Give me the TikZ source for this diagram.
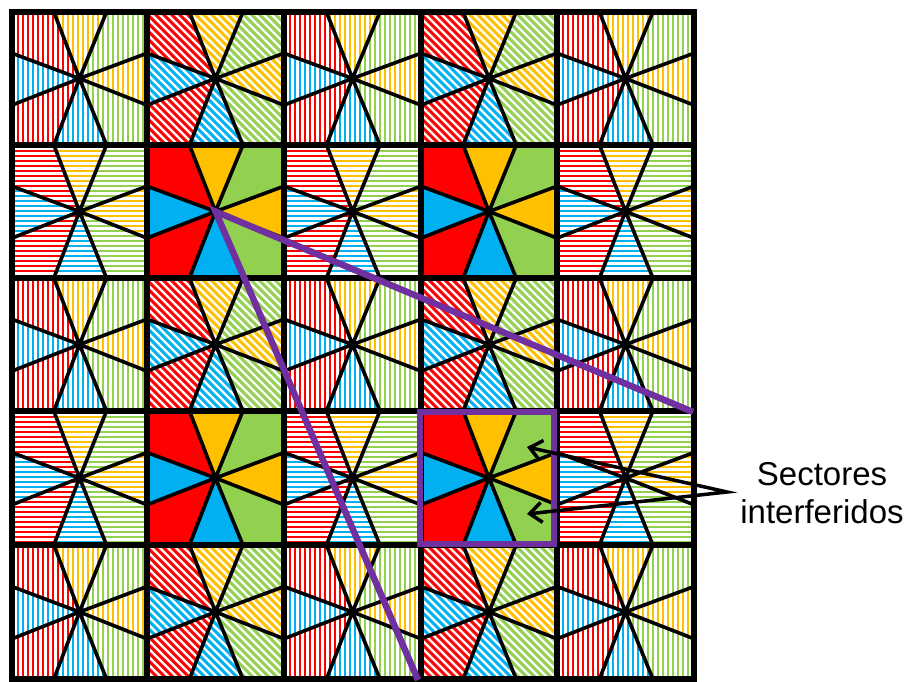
\documentclass[tikz,border=0pt]{standalone}
\usepackage{fontspec}
\setmainfont{Liberation Sans}
\usetikzlibrary{arrows.meta}
\definecolor{cred}{HTML}{FF0000}
\definecolor{cyel}{HTML}{FFC000}
\definecolor{cgrn}{HTML}{92D050}
\definecolor{cblu}{HTML}{00B0F0}
\definecolor{cpur}{HTML}{7030A0}
\tikzset{
 stripevh/.style={line width=2.5pt},
 striped/.style={line width=3pt},
 secline/.style={line width=3.6pt},
 gridline/.style={line width=6pt},
 purpline/.style={draw=cpur,line width=6.5pt},
 purpframe/.style={draw=cpur,line width=5.5pt},
 callout/.style={line width=3.5pt,line join=miter,
   {Straight Barb[length=12pt,width=20pt]}-{Straight Barb[length=12pt,width=20pt]}},
 lbl/.style={font=\fontsize{33}{38}\selectfont,anchor=base,inner sep=0pt}
}
% stripe fillers over the current cell box
\newcommand\fillplain[1]{\fill[#1] (\xa,\ya) rectangle (\xb,\yb);}
\newcommand\fillv[1]{\foreach \s in {1,6,...,141} {\draw[#1,stripevh] (\xa+\s,\ya) -- (\xa+\s,\yb);}}
\newcommand\fillh[1]{\foreach \s in {1,6,...,136} {\draw[#1,stripevh] (\xa,\ya+\s) -- (\xb,\ya+\s);}}
\newcommand\filld[1]{\foreach \s in {-140,-132,...,142} {\draw[#1,striped] (\xa+\s,\ya-2) -- (\xa+\s+140,\ya+138);}}
\newcommand\sect[3]{\begin{scope}\clip #3; \csname fill#1\endcsname{#2}\end{scope}}
\newcommand\drawcell[3]{%
 \pgfmathtruncatemacro\ci{#1+1}%
 \pgfmathtruncatemacro\ri{#2+1}%
 \pgfmathsetmacro\xa{{12,147,284,421,557,694}[#1]}%
 \pgfmathsetmacro\xb{{12,147,284,421,557,694}[\ci]}%
 \pgfmathsetmacro\ya{{12,145,278,411,545,679}[#2]}%
 \pgfmathsetmacro\yb{{12,145,278,411,545,679}[\ri]}%
 \pgfmathsetmacro\xl{\xa+0.31*(\xb-\xa)}%
 \pgfmathsetmacro\xr{\xa+0.70*(\xb-\xa)}%
 \pgfmathsetmacro\yu{\ya+0.31*(\yb-\ya)}%
 \pgfmathsetmacro\yd{\ya+0.70*(\yb-\ya)}%
 \pgfmathsetmacro\xc{(\xa+\xb)/2}%
 \pgfmathsetmacro\yc{(\ya+\yb)/2}%
 \sect{#3}{cred}{(\xc,\yc) -- (\xa,\yu) -- (\xa,\ya) -- (\xl,\ya) -- cycle}%
 \sect{#3}{cyel}{(\xc,\yc) -- (\xl,\ya) -- (\xr,\ya) -- cycle}%
 \sect{#3}{cgrn}{(\xc,\yc) -- (\xr,\ya) -- (\xb,\ya) -- (\xb,\yu) -- cycle}%
 \sect{#3}{cyel}{(\xc,\yc) -- (\xb,\yu) -- (\xb,\yd) -- cycle}%
 \sect{#3}{cgrn}{(\xc,\yc) -- (\xb,\yd) -- (\xb,\yb) -- (\xr,\yb) -- cycle}%
 \sect{#3}{cblu}{(\xc,\yc) -- (\xr,\yb) -- (\xl,\yb) -- cycle}%
 \sect{#3}{cred}{(\xc,\yc) -- (\xl,\yb) -- (\xa,\yb) -- (\xa,\yd) -- cycle}%
 \sect{#3}{cblu}{(\xc,\yc) -- (\xa,\yd) -- (\xa,\yu) -- cycle}%
 \draw[secline] (\xc,\yc) -- (\xl,\ya) (\xc,\yc) -- (\xr,\ya)
   (\xc,\yc) -- (\xb,\yu) (\xc,\yc) -- (\xb,\yd)
   (\xc,\yc) -- (\xr,\yb) (\xc,\yc) -- (\xl,\yb)
   (\xc,\yc) -- (\xa,\yd) (\xc,\yc) -- (\xa,\yu);
}
\begin{document}
\begin{tikzpicture}[x=1pt,y=-1pt]
\fill[white] (0,0) rectangle (907,682);
\useasboundingbox (0,0) rectangle (907,682);
\foreach \c/\r in {0/0,2/0,4/0,0/2,2/2,4/2,0/4,2/4,4/4} {\drawcell{\c}{\r}{v}}
\foreach \c/\r in {1/0,3/0,1/2,3/2,1/4,3/4} {\drawcell{\c}{\r}{d}}
\foreach \c/\r in {0/1,2/1,4/1,0/3,2/3,4/3} {\drawcell{\c}{\r}{h}}
\foreach \c/\r in {1/1,3/1,1/3,3/3} {\drawcell{\c}{\r}{plain}}
% grid
\foreach \x in {147,284,421,557} {\draw[gridline] (\x,12) -- (\x,679);}
\foreach \y in {145,278,411,545} {\draw[gridline] (12,\y) -- (694,\y);}
\draw[gridline] (12,12) rectangle (694,679);
% purple frame and lines
\draw[purpframe] (420,412) rectangle (554,544);
\coordinate (hub) at (215.5,211.5);
\coordinate (pend1) at (693,412);
\coordinate (pend2) at (418,680);
\draw[purpline] (pend1) -- (hub) -- (pend2);
% label and callout
\node[lbl] (lab1) at (822,485) {Sectores};
\node[lbl] (lab2) at (822,523) {interferidos};
\coordinate (apex) at (727,492);
\coordinate (tip1) at (527,447);
\coordinate (tip2) at (527,514);
\draw[callout] (tip1) -- (apex) -- (tip2);
\end{tikzpicture}
\end{document}
